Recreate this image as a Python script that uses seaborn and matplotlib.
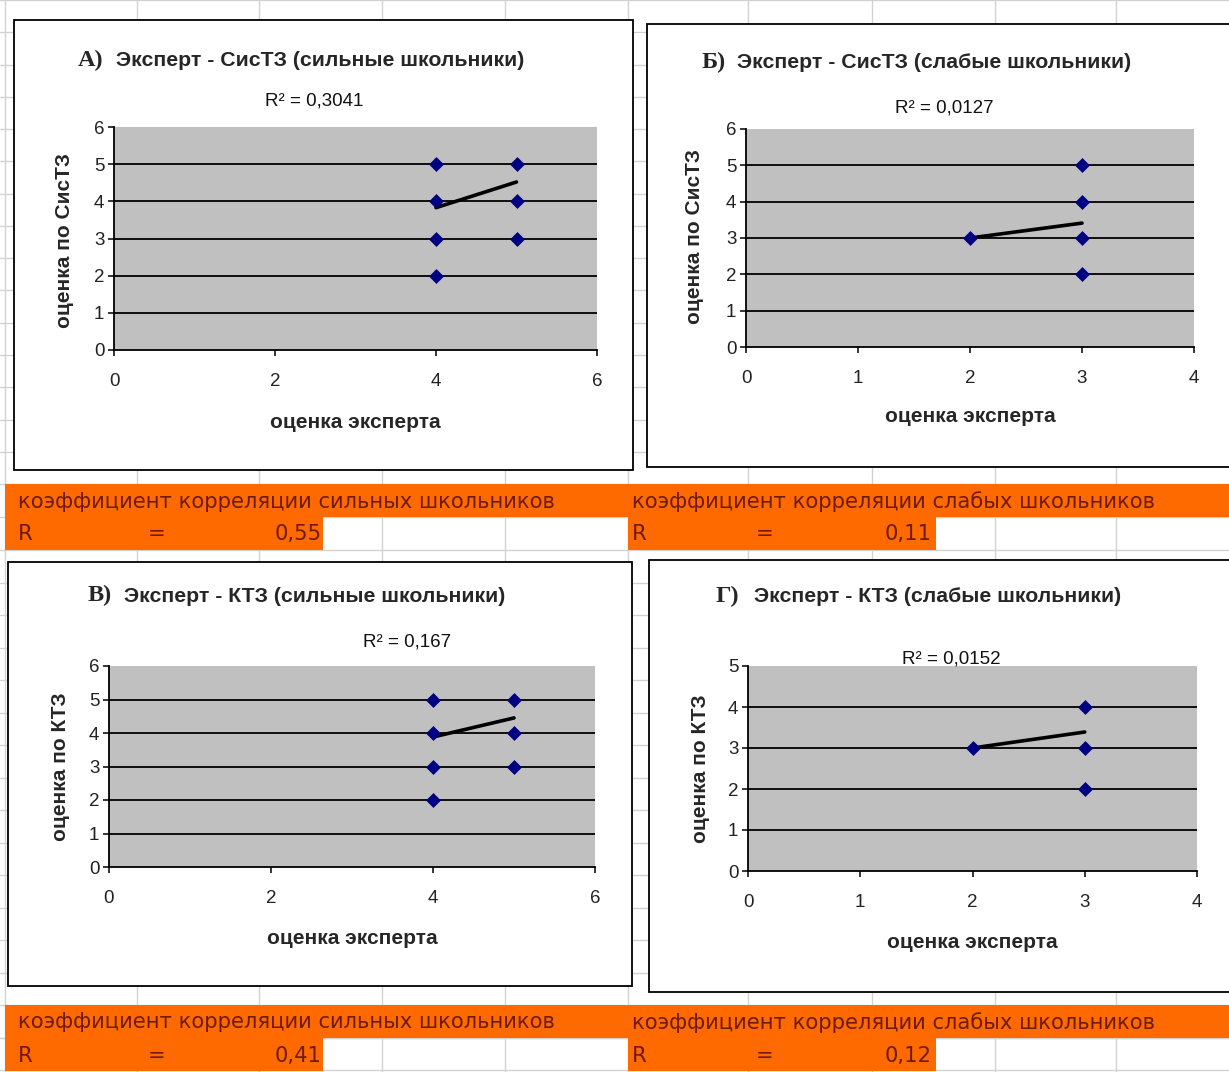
import matplotlib
matplotlib.use("Agg")
import matplotlib.pyplot as plt
from matplotlib.patches import Rectangle
import seaborn as sns

# ---------------- data ----------------
letters = ["А)", "Б)", "В)", "Г)"]
titles = ["Эксперт - СисТЗ (сильные школьники)",
          "Эксперт - СисТЗ (слабые школьники)",
          "Эксперт - КТЗ (сильные школьники)",
          "Эксперт - КТЗ (слабые школьники)"]
r2_labels = ["R² = 0,3041", "R² = 0,0127", "R² = 0,167", "R² = 0,0152"]
xlabels = ["оценка эксперта"] * 4
ylabels = ["оценка по СисТЗ", "оценка по СисТЗ", "оценка по КТЗ", "оценка по КТЗ"]

a_x = [4, 4, 4, 4, 5, 5, 5]
a_y = [5, 4, 3, 2, 5, 4, 3]
a_trend_x = [4, 5]
a_trend_y = [3.83, 4.52]

b_x = [2, 3, 3, 3, 3]
b_y = [3, 5, 4, 3, 2]
b_trend_x = [2, 3]
b_trend_y = [3.0, 3.41]

v_x = [4, 4, 4, 4, 5, 5, 5]
v_y = [5, 4, 3, 2, 5, 4, 3]
v_trend_x = [4, 5]
v_trend_y = [3.88, 4.45]

g_x = [2, 3, 3, 3]
g_y = [3, 4, 3, 2]
g_trend_x = [2, 3]
g_trend_y = [3.0, 3.39]

x_ticks = [[0, 2, 4, 6], [0, 1, 2, 3, 4], [0, 2, 4, 6], [0, 1, 2, 3, 4]]
y_ticks = [[0, 1, 2, 3, 4, 5, 6], [0, 1, 2, 3, 4, 5, 6], [0, 1, 2, 3, 4, 5, 6], [0, 1, 2, 3, 4, 5]]

corr_titles = ["коэффициент корреляции сильных школьников",
               "коэффициент корреляции слабых школьников"]
corr_values_top = ["0,55", "0,11"]
corr_values_bottom = ["0,41", "0,12"]

# ---------------- layout ----------------
W, H = 1229, 1072
sns.set_theme(style="white")
plt.rcParams['font.family'] = ['Liberation Sans', 'DejaVu Sans']

fig = plt.figure(figsize=(W / 100, H / 100), dpi=100)
fig.patch.set_facecolor("white")


def rect(x0, y0, x1, y1):
    return [x0 / W, 1 - y1 / H, (x1 - x0) / W, (y1 - y0) / H]


def fx(x):
    return x / W


def fy(y):
    return 1 - y / H


# background spreadsheet
bg = fig.add_axes([0, 0, 1, 1])
bg.set_xlim(0, W)
bg.set_ylim(H, 0)
bg.axis("off")
grid_c = "#d2d2d2"
col_lines = [5, 137, 259, 382, 505, 628, 748, 872, 995, 1116]
row_lines = [0 + 32.27 * k for k in range(16)] + [517] + [550 + 32.5 * k for k in range(16)] + [1038, 1070]
for c in col_lines:
    bg.plot([c, c], [0, H], color=grid_c, lw=1, zorder=0)
for r in row_lines:
    bg.plot([0, W], [r, r], color=grid_c, lw=1, zorder=0)

orange = "#FF6A00"
txt_c = "#6e1a0c"
for (top, vals) in [(484, corr_values_top), (1005, corr_values_bottom)]:
    mid = top + 33
    bot = top + 66
    bg.add_patch(Rectangle((5, top), W - 5, mid - top, facecolor=orange, edgecolor="none", zorder=1))
    bg.add_patch(Rectangle((5, mid), 318, bot - mid, facecolor=orange, edgecolor="none", zorder=1))
    bg.add_patch(Rectangle((628, mid), 308, bot - mid, facecolor=orange, edgecolor="none", zorder=1))
    for i, (x0, xe, xr) in enumerate([(18, 157, 322), (632, 765, 932)]):
        bg.text(x0, (top + mid) / 2 + 1, corr_titles[i], ha="left", va="center", fontsize=15.2,
                color=txt_c, family="DejaVu Sans", zorder=2)
        bg.text(x0, (mid + bot) / 2 + 1, "R", ha="left", va="center", fontsize=15.2,
                color=txt_c, family="DejaVu Sans", zorder=2)
        bg.text(xe, (mid + bot) / 2 + 1, "=", ha="center", va="center", fontsize=15.2,
                color=txt_c, family="DejaVu Sans", zorder=2)
        bg.text(xr, (mid + bot) / 2 + 1, vals[i], ha="right", va="center", fontsize=15.2,
                color=txt_c, family="DejaVu Sans", zorder=2)

# chart frames
frames = [(14, 20, 633, 470), (647, 24, 1235, 467), (8, 562, 632, 986), (649, 560, 1235, 992)]
for (x0, y0, x1, y1) in frames:
    bg.add_patch(Rectangle((x0, y0), x1 - x0, y1 - y0, facecolor="white", edgecolor="black",
                           lw=1.3, zorder=3))

# plot areas (pixel boxes)
plot_boxes = [(114, 127, 597, 350), (746, 129, 1194, 347), (109, 666, 595, 867), (748, 666, 1197, 871)]
xlims = [(0, 6), (0, 4), (0, 6), (0, 4)]
ylims = [(0, 6), (0, 6), (0, 6), (0, 5)]
data = [(a_x, a_y, a_trend_x, a_trend_y), (b_x, b_y, b_trend_x, b_trend_y),
        (v_x, v_y, v_trend_x, v_trend_y), (g_x, g_y, g_trend_x, g_trend_y)]

letter_pos = [(78, 60), (702, 62), (88, 595), (716, 596)]
title_pos = [(116, 61), (737, 63), (124, 596), (754, 597)]
r2_pos = [(314, 101), (944, 108), (407, 642), (951, 659)]
xlab_pos = [(355, 422), (970, 417), (352, 938), (972, 943)]
ylab_pos = [(65, 240), (694, 237), (60, 767), (700, 769)]

for i in range(4):
    x0, y0, x1, y1 = plot_boxes[i]
    ax = fig.add_axes(rect(x0, y0, x1, y1))
    ax.set_facecolor("#C0C0C0")
    ax.set_xlim(*xlims[i])
    ax.set_ylim(*ylims[i])
    for yv in y_ticks[i][1:-1]:
        ax.axhline(yv, color="black", lw=1.3, zorder=1)
    xs, ys, tx, ty = data[i]
    sns.lineplot(x=tx, y=ty, ax=ax, color="black", lw=2.6, zorder=3)
    sns.scatterplot(x=xs, y=ys, ax=ax, marker="D", s=50, color="#000080",
                    edgecolor="#000080", linewidth=0.5, zorder=4, clip_on=False)
    ax.set_xticks(x_ticks[i])
    ax.set_yticks(y_ticks[i])
    ax.set_xticklabels([str(t) for t in x_ticks[i]])
    ax.set_yticklabels([str(t) for t in y_ticks[i]])
    for s in ["top", "right"]:
        ax.spines[s].set_visible(False)
    for s in ["left", "bottom"]:
        ax.spines[s].set_visible(True)
        ax.spines[s].set_color("black")
        ax.spines[s].set_linewidth(1.3)
    ax.tick_params(axis="x", direction="out", length=4.5, width=1.1, color="black",
                   pad=12, labelsize=13.5, labelcolor="#222222", bottom=True)
    ax.tick_params(axis="y", direction="out", length=4.5, width=1.1, color="black",
                   pad=2.5, labelsize=13.5, labelcolor="#222222", left=True)
    ax.set_xlabel("")
    ax.set_ylabel("")
    ax.grid(False)

    fig.text(fx(letter_pos[i][0]), fy(letter_pos[i][1]), letters[i], ha="left", va="center",
             fontsize=17.5, fontweight="bold", family="Liberation Serif")
    fig.text(fx(title_pos[i][0]), fy(title_pos[i][1]), titles[i], ha="left", va="center",
             fontsize=15.3, fontweight="bold")
    fig.text(fx(r2_pos[i][0]), fy(r2_pos[i][1]), r2_labels[i], ha="center", va="center",
             fontsize=13.5, color="#111111", zorder=10)
    fig.text(fx(xlab_pos[i][0]), fy(xlab_pos[i][1]), xlabels[i], ha="center", va="center",
             fontsize=15, fontweight="bold")
    fig.text(fx(ylab_pos[i][0]), fy(ylab_pos[i][1]), ylabels[i], ha="center", va="center",
             fontsize=15, fontweight="bold", rotation=90)

fig.savefig("out.png", dpi=100)
